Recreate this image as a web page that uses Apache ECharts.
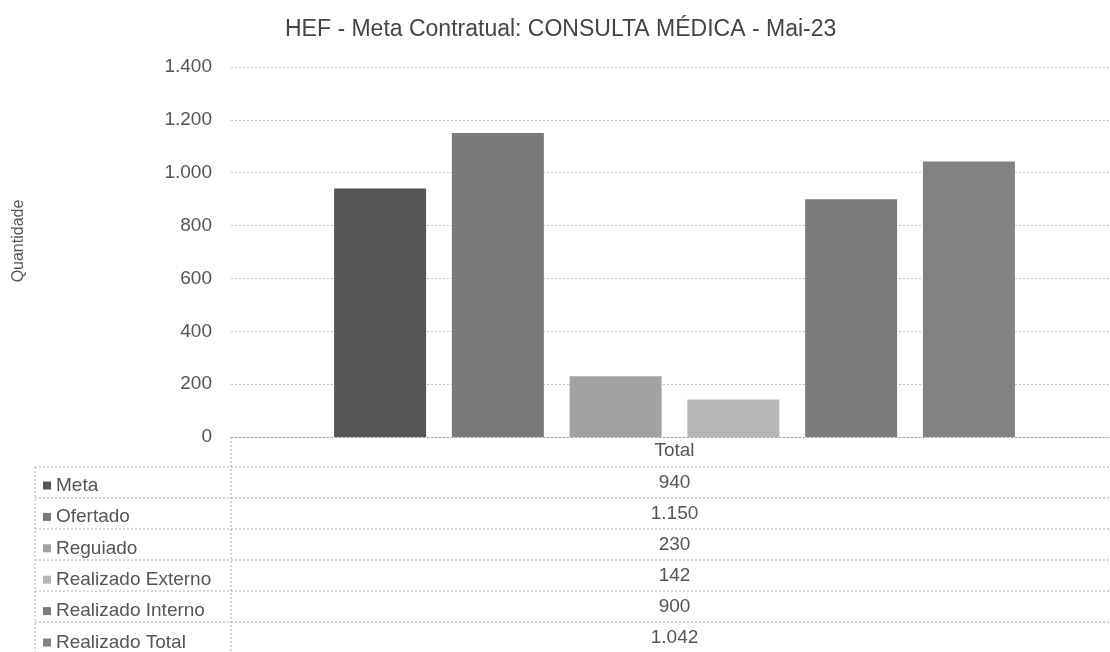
<!DOCTYPE html>
<html>
<head>
<meta charset="utf-8">
<script src="https://cdn.jsdelivr.net/npm/echarts@6/dist/echarts.min.js"></script>
<style>
  html, body { margin: 0; padding: 0; background: #fff; }
  #chart { width: 1110px; height: 652px; }
</style>
</head>
<body>
<div id="chart"></div>
<script>
  // data
  const categories = ['Total']
  const seriesNames = ['Meta', 'Ofertado', 'Reguiado', 'Realizado Externo', 'Realizado Interno', 'Realizado Total']
  const seriesValues = [940, 1150, 230, 142, 900, 1042]
  const yTicks = [0, 200, 400, 600, 800, 1000, 1200, 1400]

  const colors = ['#555555', '#7a7a7a', '#a2a2a2', '#b6b6b6', '#7c7c7c', '#828282']
  const font = '"Liberation Sans", Arial, sans-serif'
  const textColor = '#555'

  // 1150 -> 1.150
  function fmt(v) {
    return String(v).replace(/\B(?=(\d{3})+(?!\d))/g, '.')
  }

  const gridTop = 67
  const gridBottomY = 437
  const rowH = 31
  const tableTop = 467
  const tableLeft = 35
  const labelColRight = 231

  const chart = echarts.init(document.getElementById('chart'))

  chart.setOption({
    animation: false,
    textStyle: {fontFamily: font},
    title: {
      text: 'HEF - Meta Contratual: CONSULTA MÉDICA - Mai-23',
      left: 280,
      top: 13,
      textStyle: {fontSize: 23, fontWeight: 'normal', color: '#444', fontFamily: font}
    },
    legend: {
      orient: 'vertical',
      left: 43,
      top: tableTop + rowH / 2 - 6.5,
      padding: 0,
      itemWidth: 8,
      itemHeight: 8,
      itemGap: rowH - 18.6,
      icon: 'rect',
      data: seriesNames,
      textStyle: {fontSize: 19, lineHeight: 19, color: textColor, fontFamily: font}
    },
    grid: {
      left: labelColRight,
      top: gridTop,
      width: 887,
      bottom: 652 - gridBottomY,
      outerBoundsMode: 'none'
    },
    xAxis: {
      type: 'category',
      data: categories,
      axisTick: {show: false},
      axisLine: {lineStyle: {color: '#aaa', type: [2, 2]}},
      axisLabel: {fontSize: 19, color: textColor, margin: 4}
    },
    yAxis: {
      type: 'value',
      min: yTicks[0],
      max: yTicks[yTicks.length - 1],
      interval: 200,
      axisLabel: {fontSize: 19, color: textColor, margin: 19, formatter: fmt},
      splitLine: {lineStyle: {color: '#c4c4c4', type: [2, 2]}}
    },
    series: seriesNames.map(function(name, i) {
      return {
        name: name,
        type: 'bar',
        barWidth: 92,
        barGap: '28%',
        itemStyle: {color: colors[i]},
        data: [seriesValues[i]]
      }
    })
  })

  // data table under the axis
  const cx = chart.convertToPixel({xAxisIndex: 0}, categories[0])
  const lineStyle = {stroke: '#b0b0b0', lineWidth: 1, lineDash: [2, 2]}
  const graphics = [{
    type: 'text',
    x: 19,
    y: 241,
    rotation: Math.PI / 2,
    style: {text: 'Quantidade', fontSize: 16, fill: textColor, fontFamily: font, align: 'center', verticalAlign: 'middle'},
    silent: true
  }]
  for (let r = 0; r <= seriesNames.length; r++) {
    const y = tableTop + r * rowH
    graphics.push({type: 'line', shape: {x1: tableLeft, y1: y, x2: 1110, y2: y}, style: lineStyle, silent: true})
  }
  graphics.push({type: 'line', shape: {x1: labelColRight, y1: gridBottomY, x2: labelColRight, y2: 652}, style: lineStyle, silent: true})
  graphics.push({type: 'line', shape: {x1: tableLeft, y1: tableTop, x2: tableLeft, y2: 652}, style: lineStyle, silent: true})
  seriesValues.forEach(function(v, i) {
    graphics.push({
      type: 'text',
      x: cx,
      y: tableTop + i * rowH + rowH / 2,
      style: {text: fmt(v), fontSize: 19, fill: textColor, fontFamily: font, align: 'center', verticalAlign: 'middle'},
      silent: true
    })
  })
  chart.setOption({graphic: graphics})
</script>
</body>
</html>
